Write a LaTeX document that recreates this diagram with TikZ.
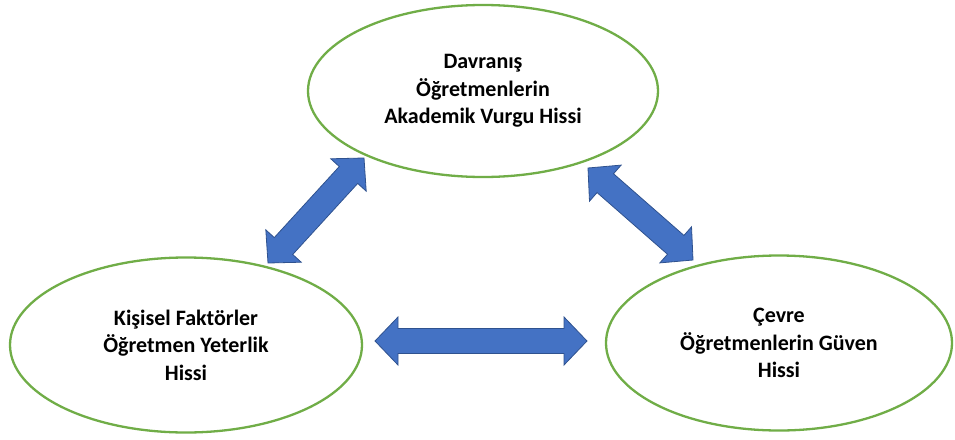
\documentclass[tikz,border=0pt]{standalone}
\usepackage{fontspec}
\setmainfont{Carlito}
\usetikzlibrary{shapes.geometric,calc}
\definecolor{ringgreen}{HTML}{70AD47}
\definecolor{arrowblue}{HTML}{4472C4}
\definecolor{arrowedge}{HTML}{2F528F}

% block double arrow between two named coordinates
\newcommand\headlen{23pt}
\newcommand\headhalf{24pt}
\newcommand\shafthalf{12.5pt}
\newcommand\blockdbl[2]{%
  \coordinate (ha) at ($(#1)!\headlen!(#2)$);
  \coordinate (hb) at ($(#2)!\headlen!(#1)$);
  \filldraw[blockarrow] (#1)
    -- ($(ha)!\headhalf!90:(#2)$) -- ($(ha)!\shafthalf!90:(#2)$)
    -- ($(hb)!\shafthalf!-90:(#1)$) -- ($(hb)!\headhalf!-90:(#1)$)
    -- (#2)
    -- ($(hb)!\headhalf!90:(#1)$) -- ($(hb)!\shafthalf!90:(#1)$)
    -- ($(ha)!\shafthalf!-90:(#2)$) -- ($(ha)!\headhalf!-90:(#2)$)
    -- cycle;}

\begin{document}
\begin{tikzpicture}[x=1pt,y=-1pt,
  factor/.style={ellipse, draw=ringgreen, line width=2.3pt, fill=white,
    align=center, inner sep=0pt,
    font=\fontsize{22}{27.5}\selectfont\bfseries},
  blockarrow/.style={fill=arrowblue, draw=arrowedge, line width=0.8pt, line join=miter}]
\useasboundingbox (0,0) rectangle (955,439);

\node[factor, minimum width=350pt, minimum height=172pt] (beh) at (483,91)
  {Davranış\\Öğretmenlerin\\Akademik Vurgu Hissi};
\node[factor, minimum width=352pt, minimum height=175pt] (pers) at (186,345)
  {Kişisel Faktörler\\Öğretmen Yeterlik\\Hissi};
\node[factor, minimum width=346pt, minimum height=175pt] (env) at (779,343)
  {Çevre\\Öğretmenlerin Güven\\Hissi};

% arrow end points next to the ellipses
\coordinate (pe) at (375,341);
\coordinate (ep) at (587,341);
\coordinate (pb) at (268,263);
\coordinate (bp) at (364,158);
\coordinate (be) at (588,168);
\coordinate (eb) at (693,260);

\blockdbl{pe}{ep}
\blockdbl{pb}{bp}
\blockdbl{be}{eb}
\end{tikzpicture}
\end{document}
